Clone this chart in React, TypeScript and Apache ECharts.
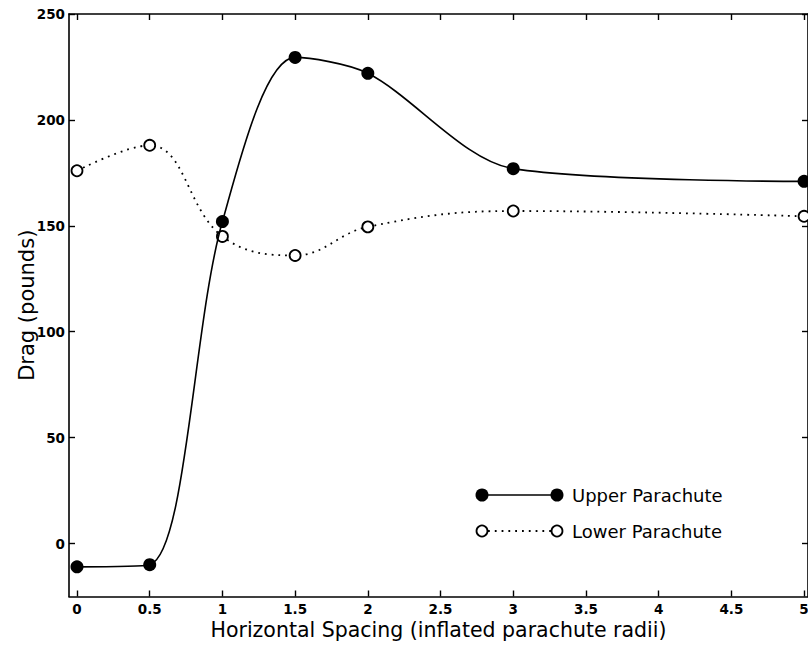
import React, { useEffect, useRef } from "react";
import * as echarts from "echarts";

const spacing = [0, 0.5, 1, 1.5, 2, 3, 5];
const upperDrag = [-11, -10, 152, 229.5, 222, 177, 171];
const lowerDrag = [176, 188, 145, 136, 149.5, 157, 154.5];
const xTicks = [0, 0.5, 1, 1.5, 2, 2.5, 3, 3.5, 4, 4.5, 5];
const yTicks = [0, 50, 100, 150, 200, 250];
const xName = "Horizontal Spacing (inflated parachute radii)";
const yName = "Drag (pounds)";
const upperName = "Upper Parachute";
const lowerName = "Lower Parachute";

const FONT = "DejaVu Sans";
const X_MIN = -0.055;
const X_MAX = 5.027;
const Y_MIN = -25;
const Y_MAX = 250;

export default function App() {
  const ref = useRef<HTMLDivElement>(null);
  useEffect(() => {
    if (!ref.current) return;
    const chart = echarts.init(ref.current, null, { renderer: "svg" });
    const axisLine = { show: true, onZero: false, lineStyle: { color: "#000", width: 1.6 } };
    const tickStyle = { color: "#000", width: 1.4 };
    const labelStyle = {
      color: "#000",
      fontFamily: FONT,
      fontWeight: "bold" as const,
      fontSize: 13.5,
    };
    chart.setOption({
      animation: false,
      backgroundColor: "#fff",
      grid: { left: 69, right: 0, top: 14, bottom: 50.5, outerBoundsMode: "none", containLabel: false },
      xAxis: [
        {
          type: "value",
          min: X_MIN,
          max: X_MAX,
          position: "bottom",
          axisLine,
          splitLine: { show: false },
          axisTick: { show: true, inside: true, length: 6, lineStyle: tickStyle, customValues: xTicks },
          axisLabel: { ...labelStyle, margin: 5, customValues: xTicks, formatter: (v: number) => String(v) },
          name: xName,
          nameLocation: "middle",
          nameGap: 22.5,
          nameMoveOverlap: false,
          nameTextStyle: { color: "#000", fontFamily: FONT, fontSize: 20.5, verticalAlign: "top" },
        },
        {
          type: "value",
          min: X_MIN,
          max: X_MAX,
          position: "top",
          axisLine,
          splitLine: { show: false },
          axisTick: { show: true, inside: true, length: 6, lineStyle: tickStyle, customValues: xTicks },
          axisLabel: { show: false },
        },
      ],
      yAxis: [
        {
          type: "value",
          min: Y_MIN,
          max: Y_MAX,
          position: "left",
          axisLine,
          splitLine: { show: false },
          axisTick: { show: true, inside: true, length: 6, lineStyle: tickStyle, customValues: yTicks },
          axisLabel: { ...labelStyle, margin: 4, customValues: yTicks },
          name: yName,
          nameLocation: "middle",
          nameGap: 32,
          nameMoveOverlap: false,
          nameTextStyle: { color: "#000", fontFamily: FONT, fontSize: 21 },
        },
        {
          type: "value",
          min: Y_MIN,
          max: Y_MAX,
          position: "right",
          axisLine,
          splitLine: { show: false },
          axisTick: { show: true, inside: true, length: 6, lineStyle: tickStyle, customValues: yTicks },
          axisLabel: { show: false },
        },
      ],
      series: [
        {
          name: upperName,
          type: "line",
          data: spacing.map((x, i) => [x, upperDrag[i]]),
          smooth: 0.3,
          clip: false,
          symbol: "circle",
          symbolSize: 13,
          itemStyle: { color: "#000", borderColor: "#000", borderWidth: 0 },
          lineStyle: { color: "#000", width: 1.6 },
          z: 3,
        },
        {
          name: lowerName,
          type: "line",
          data: spacing.map((x, i) => [x, lowerDrag[i]]),
          smooth: 0.4,
          clip: false,
          symbol: "circle",
          symbolSize: 11,
          itemStyle: { color: "#fff", borderColor: "#000", borderWidth: 1.8 },
          lineStyle: { color: "#000", width: 1.8, type: [1.8, 5] },
          z: 2,
        },
      ],
      graphic: [
        { type: "line", shape: { x1: 482, y1: 495, x2: 557, y2: 495 }, style: { stroke: "#000", lineWidth: 1.6 } },
        { type: "circle", shape: { cx: 482, cy: 495, r: 6.5 }, style: { fill: "#000" } },
        { type: "circle", shape: { cx: 557, cy: 495, r: 6.5 }, style: { fill: "#000" } },
        { type: "text", x: 572, y: 495, style: { text: upperName, fill: "#000", font: `18px "${FONT}"`, textVerticalAlign: "middle" } },
        { type: "line", shape: { x1: 488, y1: 531, x2: 551, y2: 531 }, style: { stroke: "#000", lineWidth: 1.8, lineDash: [1.8, 5] } },
        { type: "circle", shape: { cx: 482, cy: 531, r: 5.5 }, style: { fill: "#fff", stroke: "#000", lineWidth: 1.8 } },
        { type: "circle", shape: { cx: 557, cy: 531, r: 5.5 }, style: { fill: "#fff", stroke: "#000", lineWidth: 1.8 } },
        { type: "text", x: 572, y: 531, style: { text: lowerName, fill: "#000", font: `18px "${FONT}"`, textVerticalAlign: "middle" } },
      ],
    });
    return () => chart.dispose();
  }, []);
  return (
    <div
      ref={ref}
      style={{ position: "fixed", left: 0, top: 0, width: 808, height: 647, background: "#fff" }}
    />
  );
}
